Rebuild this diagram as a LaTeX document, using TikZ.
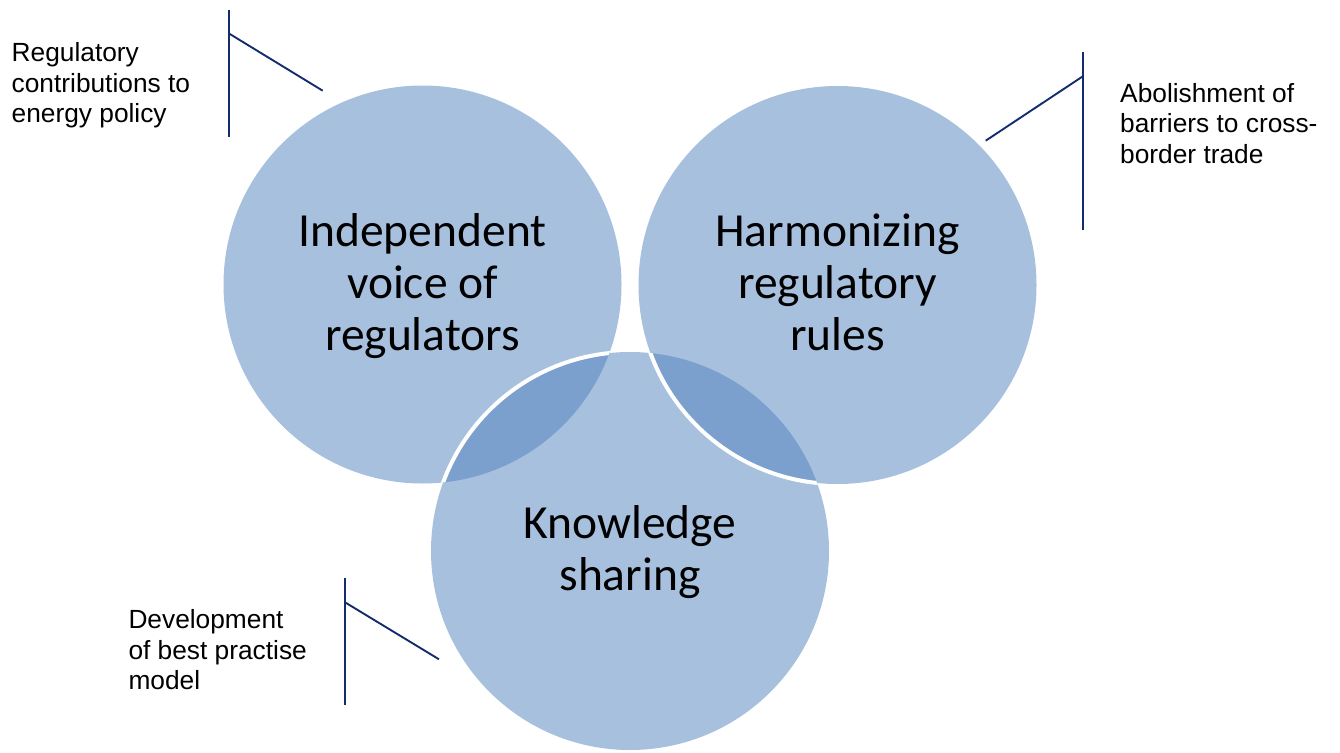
\documentclass[tikz,border=0pt]{standalone}
\usepackage{fontspec}
\setmainfont{Liberation Sans}
\newfontfamily\carlito{Carlito}
\definecolor{lightblue}{HTML}{A7C0DE}
\definecolor{darkblue}{HTML}{7BA0CE}
\definecolor{navy}{HTML}{132C6E}
\begin{document}
\begin{tikzpicture}[x=1pt,y=-1pt,
  circtext/.style={font=\carlito\fontsize{47.5}{52}\selectfont, align=center, text=black, inner sep=0pt},
  calltext/.style={font=\fontsize{26.3}{30.5}\selectfont, align=left, anchor=north west, inner sep=0pt, text=black},
  callline/.style={draw=navy, line width=1.9pt},
  whiteedge/.style={draw=white, line width=4pt}]
\useasboundingbox (0,0) rectangle (1340,752);
\coordinate (L) at (422.5,284.5);
\coordinate (R) at (837.5,285);
\coordinate (B) at (630,551);
% circle fills
\fill[lightblue] (L) circle[radius=199];
\fill[lightblue] (R) circle[radius=199];
\fill[lightblue] (B) circle[radius=199];
% overlap lenses
\begin{scope}
  \clip (L) circle[radius=199];
  \fill[darkblue] (B) circle[radius=199];
\end{scope}
\begin{scope}
  \clip (R) circle[radius=199];
  \fill[darkblue] (B) circle[radius=199];
\end{scope}
% white edges
\begin{scope}
  \clip (L) circle[radius=199];
  \draw[whiteedge] (B) circle[radius=199];
\end{scope}
\begin{scope}
  \clip (B) circle[radius=199];
  \draw[whiteedge] (R) circle[radius=199];
\end{scope}
% circle texts
\node[circtext] (tL) at (422.5,286) {Independent\\voice of\\regulators};
\node[circtext] (tR) at (837.5,282) {Harmonizing\\regulatory\\rules};
\node[circtext] (tB) at (630,552) {Knowledge\\sharing};
% callouts
\coordinate (l1) at (229,10);
\coordinate (l2) at (229,137);
\coordinate (lk) at (229,33.5);
\coordinate (le) at (322.7,90.7);
\draw[callline] (l1) -- (l2);
\draw[callline] (lk) -- (le);
\node[calltext] (cL) at (11.5,42.5) {Regulatory\\contributions to\\energy policy};

\coordinate (r1) at (1083.3,52);
\coordinate (r2) at (1083.3,229.5);
\coordinate (rk) at (1083.3,76);
\coordinate (re) at (985.7,140.7);
\draw[callline] (r1) -- (r2);
\draw[callline] (rk) -- (re);
\node[calltext] (cR) at (1120,83) {Abolishment of\\barriers to cross-\\border trade};

\coordinate (b1) at (345,578);
\coordinate (b2) at (345,705);
\coordinate (bk) at (345,602.3);
\coordinate (be) at (439,659.3);
\draw[callline] (b1) -- (b2);
\draw[callline] (bk) -- (be);
\node[calltext] (cB) at (128.3,609.5) {Development\\of best practise\\model};
\end{tikzpicture}
\end{document}
